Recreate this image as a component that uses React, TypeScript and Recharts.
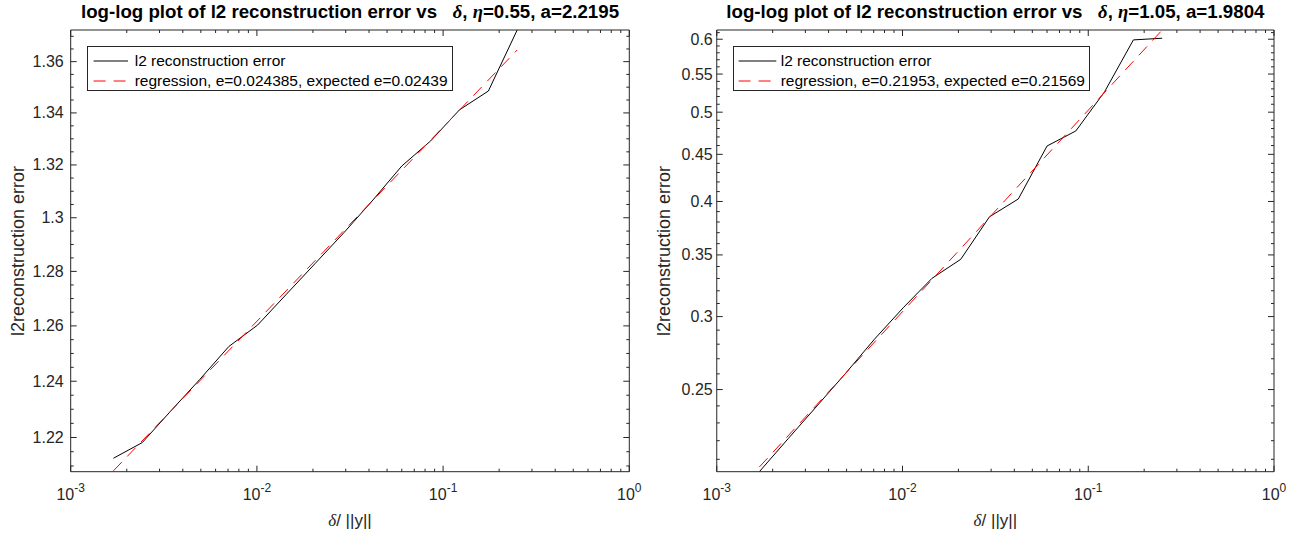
import React from "react";
import { LineChart, Line, XAxis, YAxis, Legend } from "recharts";

// delta / ||y|| sample points (shared by both panels)
const delta = [
  0.0016956, 0.0024222, 0.0034603, 0.0049433, 0.0070619, 0.010088, 0.014412,
  0.020589, 0.029412, 0.042018, 0.060025, 0.08575, 0.1225, 0.175, 0.25,
];

// eta = 0.55
const errLeft = [
  1.2127, 1.2182, 1.2295, 1.2407, 1.2525, 1.2603, 1.2716, 1.283, 1.2945,
  1.3067, 1.3196, 1.3292, 1.3412, 1.3485, 1.3725,
];
const regLeft = [1.2083, 1.3646]; // regression at first / last delta

// eta = 1.05
const errRight = [
  0.2036, 0.2211, 0.2399, 0.2604, 0.2835, 0.3067, 0.3301, 0.3462, 0.385,
  0.4025, 0.4595, 0.4771, 0.5263, 0.599, 0.6015,
];
const regRight = [0.206, 0.614];

const xMajor = [0.001, 0.01, 0.1, 1];
const xMinor = [
  0.002, 0.003, 0.004, 0.005, 0.006, 0.007, 0.008, 0.009,
  0.02, 0.03, 0.04, 0.05, 0.06, 0.07, 0.08, 0.09,
  0.2, 0.3, 0.4, 0.5, 0.6, 0.7, 0.8, 0.9,
];

const yMajorLeft = [1.22, 1.24, 1.26, 1.28, 1.3, 1.32, 1.34, 1.36];
const yMinorLeft = [
  1.21, 1.215, 1.225, 1.23, 1.235, 1.245, 1.25, 1.255, 1.265, 1.27, 1.275,
  1.285, 1.29, 1.295, 1.305, 1.31, 1.315, 1.325, 1.33, 1.335, 1.345, 1.35,
  1.355, 1.365, 1.37,
];

const yMajorRight = [0.25, 0.3, 0.35, 0.4, 0.45, 0.5, 0.55, 0.6];
const yMinorRight = [
  0.21, 0.22, 0.23, 0.24, 0.26, 0.27, 0.28, 0.29, 0.31, 0.32, 0.33, 0.34,
  0.36, 0.37, 0.38, 0.39, 0.41, 0.42, 0.43, 0.44, 0.46, 0.47, 0.48, 0.49,
  0.51, 0.52, 0.53, 0.54, 0.56, 0.57, 0.58, 0.59, 0.61,
];

const AX = "#262626";
const SANS = '"Liberation Sans", Arial, Helvetica, sans-serif';
const SERIF = '"Liberation Serif", "DejaVu Serif", serif';
const DASH = "12 8";

const isIn = (list: number[], v: number) => list.some((m) => Math.abs(m - v) < 1e-9);

function makeRows(err: number[], reg: number[]) {
  return delta.map((x, i) => ({
    x,
    err: err[i],
    reg: i === 0 ? reg[0] : i === delta.length - 1 ? reg[1] : null,
  }));
}

// tick props x/y sit on the axis line because tickSize = tickMargin = 0
function XTick(props: any) {
  const { x, y, payload, side } = props;
  const major = isIn(xMajor, payload.value);
  const len = major ? 6 : 3;
  const dir = side === "top" ? 1 : -1;
  const exp = Math.round(Math.log10(payload.value));
  return (
    <g>
      <line x1={x} x2={x} y1={y} y2={y + dir * len} stroke={AX} strokeWidth={1} />
      {side === "bottom" && major && (
        <text x={x} y={y + 28} textAnchor="middle" fill={AX} fontSize={16} fontFamily={SANS}>
          10
          <tspan dy={-8} fontSize={12}>
            {String(exp)}
          </tspan>
        </text>
      )}
    </g>
  );
}

function YTick(props: any) {
  const { x, y, payload, side, majors, gap } = props;
  const major = isIn(majors, payload.value);
  const len = major ? 6 : 3;
  const dir = side === "left" ? 1 : -1;
  return (
    <g>
      <line x1={x} x2={x + dir * len} y1={y} y2={y} stroke={AX} strokeWidth={1} />
      {side === "left" && major && (
        <text
          x={x - gap}
          y={y}
          textAnchor="end"
          dominantBaseline="central"
          fill={AX}
          fontSize={16}
          fontFamily={SANS}
        >
          {String(payload.value)}
        </text>
      )}
    </g>
  );
}

function LegendBox({ width, lineFrom, lineTo, textX, regText }: any) {
  const row = (y: number, dashed: boolean, label: string) => (
    <div style={{ position: "absolute", left: 0, top: y - 10, height: 20, width: "100%" }}>
      <svg width={lineTo + 2} height={20} style={{ position: "absolute", left: 0, top: 0 }}>
        <line
          x1={lineFrom}
          x2={lineTo}
          y1={10}
          y2={10}
          stroke={dashed ? "#ff0000" : "#000"}
          strokeWidth={1}
          strokeDasharray={dashed ? DASH : undefined}
        />
      </svg>
      <span
        style={{
          position: "absolute",
          left: textX,
          top: 0,
          lineHeight: "20px",
          fontSize: 15.5,
          fontFamily: SANS,
          color: "#000",
          whiteSpace: "pre",
        }}
      >
        {label}
      </span>
    </div>
  );
  return (
    <div
      style={{
        position: "relative",
        width,
        height: 45,
        boxSizing: "border-box",
        border: `1px solid ${AX}`,
        background: "#fff",
      }}
    >
      {row(14, false, "l2 reconstruction error")}
      {row(34, true, regText)}
    </div>
  );
}

const Y_AXIS_W = 50;
const X_AXIS_H = 30;

function Panel(props: any) {
  const {
    left, width, plot, err, reg, yDomain, yMajor, yMinor, gap,
    eta, a, legend,
  } = props;
  const rows = makeRows(err, reg);
  // plot = { l, r, t, b } in panel pixels; axes take part of the margin
  const margin = {
    top: plot.t - 1,
    bottom: 534 - plot.b - X_AXIS_H,
    left: plot.l - Y_AXIS_W,
    right: width - plot.r - 1,
  };
  const cx = (plot.l + plot.r) / 2;
  const yTicks = [...yMinor, ...yMajor].sort((p, q) => p - q);
  const xTicks = [...xMinor, ...xMajor].sort((p, q) => p - q);
  return (
    <div style={{ position: "absolute", left, top: 0, width, height: 534 }}>
      <LineChart width={width} height={534} data={rows} margin={margin}>
        <XAxis
          xAxisId="b"
          dataKey="x"
          type="number"
          scale="log"
          domain={[0.001, 1]}
          allowDataOverflow
          ticks={xTicks}
          interval={0}
          height={X_AXIS_H}
          tickSize={0}
          tickMargin={0}
          axisLine={{ stroke: AX, strokeWidth: 1 }}
          tick={(p: any) => <XTick {...p} side="bottom" />}
        />
        <XAxis
          xAxisId="t"
          orientation="top"
          dataKey="x"
          type="number"
          scale="log"
          domain={[0.001, 1]}
          allowDataOverflow
          ticks={xTicks}
          interval={0}
          height={1}
          tickSize={0}
          tickMargin={0}
          axisLine={{ stroke: AX, strokeWidth: 1 }}
          tick={(p: any) => <XTick {...p} side="top" />}
        />
        <YAxis
          yAxisId="l"
          type="number"
          scale="log"
          domain={yDomain}
          allowDataOverflow
          ticks={yTicks}
          interval={0}
          width={Y_AXIS_W}
          tickSize={0}
          tickMargin={0}
          axisLine={{ stroke: AX, strokeWidth: 1 }}
          tick={(p: any) => <YTick {...p} side="left" majors={yMajor} gap={gap} />}
        />
        <YAxis
          yAxisId="r"
          orientation="right"
          type="number"
          scale="log"
          domain={yDomain}
          allowDataOverflow
          ticks={yTicks}
          interval={0}
          width={1}
          tickSize={0}
          tickMargin={0}
          axisLine={{ stroke: AX, strokeWidth: 1 }}
          tick={(p: any) => <YTick {...p} side="right" majors={yMajor} gap={gap} />}
        />
        <Line
          xAxisId="b"
          yAxisId="l"
          dataKey="err"
          stroke="#000"
          strokeWidth={1}
          dot={false}
          isAnimationActive={false}
        />
        <Line
          xAxisId="b"
          yAxisId="l"
          dataKey="reg"
          stroke="#ff0000"
          strokeWidth={1}
          strokeDasharray={DASH}
          connectNulls
          dot={false}
          isAnimationActive={false}
        />
        <Legend
          layout="horizontal"
          verticalAlign="middle"
          align="center"
          wrapperStyle={{ left: legend.x, top: 46, width: legend.w, height: 45 }}
          content={() => (
            <LegendBox
              width={legend.w}
              lineFrom={legend.lineFrom}
              lineTo={legend.lineTo}
              textX={legend.textX}
              regText={legend.text}
            />
          )}
        />
      </LineChart>

      <div
        style={{
          position: "absolute",
          left: cx - 400,
          width: 800,
          top: 1,
          textAlign: "center",
          fontFamily: SANS,
          fontWeight: "bold",
          fontSize: 18.7,
          lineHeight: "22px",
          color: "#000",
          whiteSpace: "pre",
        }}
      >
        {"log-log plot of l2 reconstruction error vs   "}
        <i style={{ fontFamily: SERIF }}>δ</i>
        {", "}
        <i style={{ fontFamily: SERIF }}>η</i>
        {`=${eta}, a=${a}`}
      </div>

      <div
        style={{
          position: "absolute",
          left: cx - 100,
          width: 200,
          top: 510,
          textAlign: "center",
          fontFamily: SANS,
          fontSize: 17,
          lineHeight: "22px",
          color: AX,
          whiteSpace: "pre",
        }}
      >
        <i style={{ fontFamily: SERIF }}>δ</i>
        {"/ ||y||"}
      </div>

      <div
        style={{
          position: "absolute",
          left: plot.l - 53,
          top: 251,
          transform: "translate(-50%, -50%) rotate(-90deg)",
          fontFamily: SANS,
          fontSize: 18,
          lineHeight: "22px",
          color: AX,
          whiteSpace: "nowrap",
        }}
      >
        l2reconstruction error
      </div>
    </div>
  );
}

export default function App() {
  return (
    <div
      style={{
        position: "absolute",
        left: 0,
        top: 0,
        width: 1299,
        height: 534,
        background: "#fff",
        overflow: "hidden",
      }}
    >
      <Panel
        left={0}
        width={650}
        plot={{ l: 70.7, r: 629.3, t: 30, b: 471.7 }}
        err={errLeft}
        reg={regLeft}
        yDomain={[1.208, 1.3725]}
        yMajor={yMajorLeft}
        yMinor={yMinorLeft}
        gap={7}
        eta="0.55"
        a="2.2195"
        legend={{
          x: 86.7,
          w: 366,
          lineFrom: 5.6,
          lineTo: 40,
          textX: 47,
          text: "regression, e=0.024385, expected e=0.02439",
        }}
      />
      <Panel
        left={650}
        width={649}
        plot={{ l: 66.75, r: 624, t: 30, b: 471.7 }}
        err={errRight}
        reg={regRight}
        yDomain={[0.2036, 0.614]}
        yMajor={yMajorRight}
        yMinor={yMinorRight}
        gap={4}
        eta="1.05"
        a="1.9804"
        legend={{
          x: 82.7,
          w: 357,
          lineFrom: 4.6,
          lineTo: 42.3,
          textX: 47,
          text: "regression, e=0.21953, expected e=0.21569",
        }}
      />
    </div>
  );
}
